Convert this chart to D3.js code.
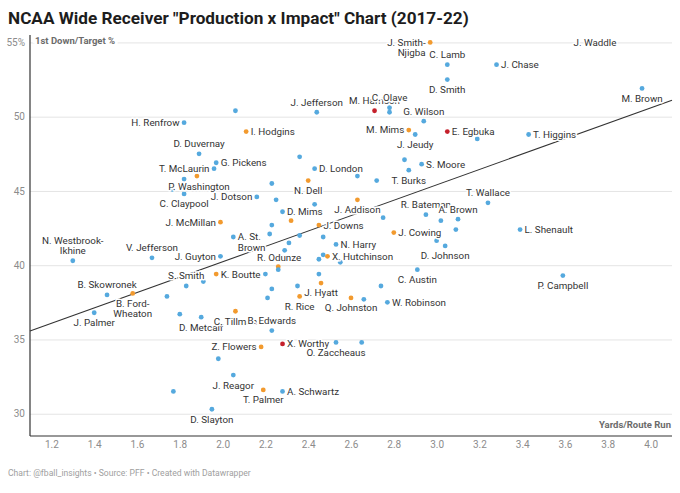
<!DOCTYPE html>
<html>
<head>
<meta charset="utf-8">
<script src="https://cdn.jsdelivr.net/npm/d3@7"></script>
<style>
  body { margin: 0; background: #fff; }
  svg { display: block; font-family: Roboto, "Noto Sans", sans-serif; }
</style>
</head>
<body>
<div id="chart"></div>
<script>
// players (null = unlabelled dot)
const players = [
  "H. Renfrow", null, "J. Jefferson", "I. Hodgins", "D. Duvernay", "G. Pickens", "T. McLaurin", null,
  "D. London", null, null, "P. Washington", "C. Claypool", null, "N. Dell", "J. Dotson",
  null, null, "D. Mims", null, "J. McMillan", null, "J. Downs", "J. Addison",
  null, null, null, "T. Burks", "S. Moore", null, "R. Bateman", null,
  "A. Brown", null, "T. Wallace", "L. Shenault", "J. Cowing", null, "D. Johnson", "C. Austin",
  "P. Campbell", "A. St. Brown", null, null, null, null, "N. Harry", "R. Odunze",
  "J. Guyton", null, null, "X. Hutchinson", null, null, null, "K. Boutte",
  null, null, "N. Westbrook-Ikhine", "V. Jefferson", "B. Skowronek", "B. Ford-Wheaton", "J. Palmer", null,
  "S. Smith", null, null, null, "J. Hyatt", "R. Rice", null, null,
  "Q. Johnston", null, "W. Robinson", null, "D. Metcalf", "C. Tillman", "B. Edwards", "X. Worthy",
  "Z. Flowers", "O. Zaccheaus", null, null, "J. Reagor", null, "T. Palmer", "A. Schwartz",
  "D. Slayton", "J. Smith-Njigba", "C. Lamb", "J. Chase", "D. Smith", "M. Brown", "M. Harrison", "C. Olave",
  null, "G. Wilson", "M. Mims", "J. Jeudy", "E. Egbuka", null, "T. Higgins", "J. Waddle"
];

const yardsPerRoute = [
  1.82, 2.06, 2.44, 2.11, 1.89, 1.97, 1.96, 2.36,
  2.43, 1.82, 1.88, 1.765, 1.82, 2.23, 2.40, 2.16,
  2.25, 2.43, 2.28, 2.32, 1.99, 2.23, 2.45, 2.63,
  2.63, 2.72, 2.85, 2.87, 2.93, 2.75, 2.95, 3.02,
  3.10, 3.09, 3.24, 3.39, 2.80, 3.00, 3.04, 2.91,
  3.59, 2.05, 2.22, 2.36, 2.47, 2.31, 2.53, 2.29,
  1.99, 2.45, 2.47, 2.49, 2.55, 2.26, 2.26, 1.97,
  2.20, 2.45, 1.30, 1.67, 1.46, 1.58, 1.40, 1.74,
  1.83, 1.91, 2.23, 2.35, 2.46, 2.36, 2.74, 2.21,
  2.60, 2.66, 2.77, 1.80, 1.90, 2.06, 2.23, 2.28,
  2.18, 2.53, 2.65, 1.98, 2.05, 1.77, 2.19, 2.28,
  1.95, 2.97, 3.05, 3.28, 3.05, 3.96, 2.71, 2.78,
  2.78, 2.94, 2.87, 2.90, 3.05, 3.19, 3.43, 3.74
];

const firstDownRate = [
  49.6, 50.4, 50.3, 49.0, 47.5, 46.9, 46.5, 47.3,
  46.5, 45.8, 46.0, 45.1, 44.8, 45.5, 45.7, 44.6,
  44.4, 44.1, 43.6, 43.0, 42.9, 42.7, 42.7, 44.4,
  46.0, 45.7, 47.1, 46.4, 46.8, 43.2, 43.4, 43.0,
  43.1, 42.4, 44.2, 42.4, 42.2, 41.65, 41.3, 39.7,
  39.3, 41.9, 42.1, 42.0, 41.9, 41.5, 41.4, 41.0,
  40.6, 40.4, 40.7, 40.6, 40.2, 39.9, 39.7, 39.4,
  39.4, 39.4, 40.3, 40.5, 38.0, 38.1, 36.8, 37.9,
  38.6, 38.9, 38.4, 38.6, 38.8, 37.9, 38.6, 37.8,
  37.8, 37.7, 37.5, 36.7, 36.5, 36.9, 35.6, 34.7,
  34.5, 34.8, 34.8, 33.7, 32.6, 31.5, 31.6, 31.5,
  30.3, 55.0, 53.5, 53.5, 52.5, 51.9, 50.4, 50.6,
  50.3, 49.7, 49.1, 48.8, 49.0, 48.5, 48.8, 55.0
];

// dot colour group: 0 blue, 1 orange, 2 red
const group = [
  0, 0, 0, 1, 0, 0, 0, 0,
  0, 0, 1, 0, 0, 0, 1, 0,
  0, 0, 0, 1, 1, 0, 1, 1,
  0, 0, 0, 0, 0, 0, 0, 0,
  0, 0, 0, 0, 1, 0, 0, 0,
  0, 0, 0, 0, 0, 0, 0, 0,
  0, 0, 0, 1, 0, 1, 0, 1,
  0, 0, 0, 0, 0, 1, 0, 0,
  0, 0, 0, 0, 1, 1, 0, 0,
  1, 0, 0, 0, 0, 1, 0, 2,
  1, 0, 0, 0, 0, 0, 1, 0,
  0, 1, 0, 0, 0, 0, 2, 0,
  0, 0, 1, 0, 2, 0, 0, 0
];

const xTicks = [1.2, 1.4, 1.6, 1.8, 2.0, 2.2, 2.4, 2.6, 2.8, 3.0, 3.2, 3.4, 3.6, 3.8, 4.0];
const yTicks = [30, 35, 40, 45, 50, 55];

// linear trend line: firstDownRate = intercept + slope * yardsPerRoute
const trendSlope = 5.18;
const trendIntercept = 29.87;

// label sides (L left, R right, A above, B below, C centred)
const sideOf = {};
"H. Renfrow|T. McLaurin|J. Dotson|J. McMillan|J. Guyton|Z. Flowers|J. Smith-Njigba|M. Mims"
  .split("|").forEach(n => (sideOf[n] = "L"));
"J. Jefferson|D. Duvernay|R. Bateman|A. Brown|T. Wallace|N. Westbrook-Ikhine|V. Jefferson|B. Skowronek|S. Smith|B. Edwards|C. Lamb|M. Harrison|C. Olave|G. Wilson"
  .split("|").forEach(n => (sideOf[n] = "A"));
"C. Claypool|N. Dell|J. Addison|T. Burks|D. Johnson|C. Austin|P. Campbell|B. Ford-Wheaton|J. Palmer|J. Hyatt|R. Rice|Q. Johnston|D. Metcalf|C. Tillman|O. Zaccheaus|J. Reagor|T. Palmer|D. Slayton|D. Smith|M. Brown|J. Jeudy"
  .split("|").forEach(n => (sideOf[n] = "B"));
sideOf["J. Waddle"] = "C";
const customSpot = {
  "P. Washington": { dx: -4, dy: -3, anchor: "start" },
  "R. Odunze": { dx: -5.5, dy: 7, anchor: "middle" }
};
const wrapped = {
  "J. Smith-Njigba": ["J. Smith-", "Njigba"],
  "N. Westbrook-Ikhine": ["N. Westbrook-", "Ikhine"],
  "B. Ford-Wheaton": ["B. Ford-", "Wheaton"],
  "A. St. Brown": ["A. St.", "Brown"]
};

const width = 680,
  height = 493,
  plot = { left: 30, right: 672, top: 35, bottom: 436 },
  colors = ["#55a9de", "#f29a2e", "#c5202b"],
  lineH = 10.3;

const data = players.map((name, i) => ({
  name,
  x: yardsPerRoute[i],
  y: firstDownRate[i],
  g: group[i]
}));

const x = d3.scaleLinear().domain([1.1, 4.1]).range([plot.left, plot.right]);
const y = d3.scaleLinear().domain([28.5, 55.5]).range([plot.bottom, plot.top]);

const svg = d3
  .select("#chart")
  .append("svg")
  .attr("width", width)
  .attr("height", height);

svg.append("rect").attr("width", width).attr("height", height).attr("fill", "#fff");

svg
  .append("text")
  .attr("x", 8)
  .attr("y", 24)
  .attr("font-size", 17.2)
  .attr("font-weight", 700)
  .attr("fill", "#1d1d1d")
  .text('NCAA Wide Receiver "Production x Impact" Chart (2017-22)');

// y grid + labels
const gy = svg
  .append("g")
  .attr("transform", "translate(" + plot.left + ",0)")
  .call(
    d3
      .axisLeft(y)
      .tickValues(yTicks)
      .tickSize(-(plot.right - plot.left))
      .tickPadding(5)
      .tickFormat(d => (d === 55 ? "55%" : d))
  );
gy.select(".domain").remove();
gy.selectAll(".tick line").attr("stroke", "#e4e4e4");
gy.selectAll(".tick text")
  .attr("fill", "#8c8c8c")
  .attr("font-size", 10)
  .attr("font-family", "Roboto, sans-serif");

// x axis
const gx = svg
  .append("g")
  .attr("transform", "translate(0," + plot.bottom + ")")
  .call(
    d3
      .axisBottom(x)
      .tickValues(xTicks)
      .tickSize(0)
      .tickPadding(5)
      .tickFormat(d3.format(".1f"))
  );
gx.select(".domain").remove();
gx.selectAll(".tick text")
  .attr("fill", "#8c8c8c")
  .attr("font-size", 10)
  .attr("font-family", "Roboto, sans-serif");

svg
  .append("line")
  .attr("x1", plot.left)
  .attr("x2", plot.right)
  .attr("y1", plot.bottom)
  .attr("y2", plot.bottom)
  .attr("stroke", "#333")
  .attr("stroke-width", 1.2);
svg
  .append("line")
  .attr("x1", plot.left)
  .attr("x2", plot.left)
  .attr("y1", plot.top)
  .attr("y2", plot.bottom)
  .attr("stroke", "#333")
  .attr("stroke-width", 1.2);

// trend line
const xd = x.domain();
svg
  .append("line")
  .attr("x1", x(xd[0]))
  .attr("y1", y(trendIntercept + trendSlope * xd[0]))
  .attr("x2", x(xd[1]))
  .attr("y2", y(trendIntercept + trendSlope * xd[1]))
  .attr("stroke", "#333")
  .attr("stroke-width", 1.1);

// dots
svg
  .append("g")
  .selectAll("circle")
  .data(data)
  .enter()
  .append("circle")
  .attr("cx", d => x(d.x))
  .attr("cy", d => y(d.y))
  .attr("r", 2.4)
  .attr("fill", d => colors[d.g]);

// labels
function spot(name) {
  if (customSpot[name]) return customSpot[name];
  const s = sideOf[name] || "R";
  if (s === "L") return { dx: -4.5, dy: 0, anchor: "end" };
  if (s === "A") return { dx: 0, dy: -10, anchor: "middle" };
  if (s === "B") return { dx: 0, dy: 10, anchor: "middle" };
  if (s === "C") return { dx: 0, dy: 0, anchor: "middle" };
  return { dx: 4.5, dy: 0, anchor: "start" };
}

const labels = svg
  .append("g")
  .selectAll("text")
  .data(data.filter(d => d.name))
  .enter()
  .append("text")
  .attr("font-size", 9.8)
  .attr("fill", "#333")
  .attr("stroke", "#fff")
  .attr("stroke-width", 3)
  .attr("stroke-linejoin", "round")
  .attr("paint-order", "stroke")
  .each(function(d) {
    const p = spot(d.name);
    const lines = wrapped[d.name] || [d.name];
    // above-placed multi-line labels grow upward
    const first = sideOf[d.name] === "A" ? -(lines.length - 1) * lineH : 0;
    const t = d3.select(this).attr("text-anchor", p.anchor);
    lines.forEach((ln, k) => {
      t.append("tspan")
        .attr("x", x(d.x) + p.dx)
        .attr("y", y(d.y) + p.dy + first + k * lineH)
        .attr("dy", "0.35em")
        .text(ln);
    });
  });

// axis titles
svg
  .append("text")
  .attr("x", 35)
  .attr("y", 41)
  .attr("dy", "0.35em")
  .attr("font-size", 9.5)
  .attr("font-weight", 700)
  .attr("fill", "#6b6b6b")
  .attr("stroke", "#fff")
  .attr("stroke-width", 6)
  .attr("paint-order", "stroke")
  .text("1st Down/Target %");

svg
  .append("text")
  .attr("x", plot.right - 1)
  .attr("y", 425)
  .attr("dy", "0.35em")
  .attr("text-anchor", "end")
  .attr("font-size", 9.5)
  .attr("font-weight", 700)
  .attr("fill", "#6b6b6b")
  .text("Yards/Route Run");

svg
  .append("text")
  .attr("x", 8)
  .attr("y", 476)
  .attr("font-size", 8.6)
  .attr("fill", "#a0a0a0")
  .text("Chart: @fball_insights \u2022 Source: PFF \u2022 Created with Datawrapper");
</script>
</body>
</html>
